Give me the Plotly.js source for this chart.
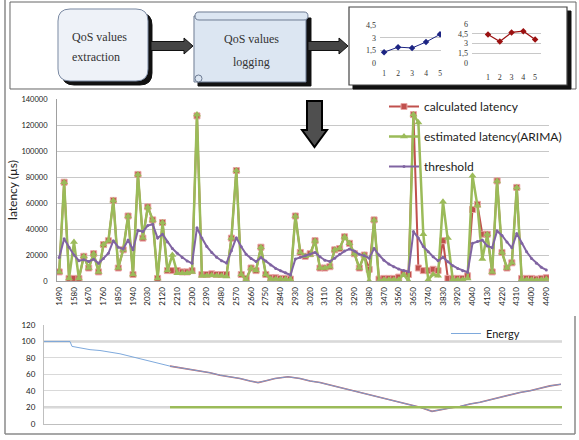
<!DOCTYPE html>
<html><head><meta charset="utf-8">
<script src="https://cdn.plot.ly/plotly-3.0.1.min.js"></script>
<style>html,body{margin:0;padding:0;background:#fff}#chart{width:579px;height:440px}</style>
</head><body><div id="chart"></div>
<script>
// ---------- main chart data ----------
const categories = ['1490','1520','1550','1580','1610','1640','1670','1700','1730','1760',
'1790','1820','1850','1880','1910','1940','1970','2000','2030','2060',
'2090','2120','2150','2180','2210','2240','2270','2300','2330','2360',
'2390','2420','2450','2480','2510','2540','2570','2600','2630','2660',
'2690','2720','2750','2780','2810','2840','2870','2900','2930','2960',
'2990','3020','3050','3080','3110','3140','3170','3200','3230','3260',
'3290','3320','3350','3380','3410','3440','3470','3500','3530','3560',
'3590','3620','3650','3680','3710','3740','3770','3800','3830','3860',
'3890','3920','3960','4000','4040','4070','4100','4130','4160','4190',
'4220','4250','4280','4310','4340','4370','4400','4430','4460','4490'];

const calculatedLatency = [7000,76000,2000,2000,2000,19000,10000,21000,7000,28000,
31000,62000,10000,24000,50000,5000,82000,33000,57000,47000,
2000,45000,8000,8000,8000,7000,7000,8000,127000,5000,
5000,5500,5000,5000,5000,33000,85000,5000,2000,10000,
8000,26000,5000,2500,2500,2000,2000,1500,50000,22000,
19000,21000,31000,10000,10000,11000,24000,25000,34000,29000,
21000,10000,20000,9000,47000,1500,2000,2000,2000,3000,
6000,5000,128000,10000,8000,8000,9000,8000,31000,2000,
2000,2000,2000,4000,55000,59000,36000,36000,7000,77000,
22000,10000,14000,72000,2000,2000,2000,1500,2000,2500];

const estimatedLatency = [7000,76000,2000,30000,2000,19000,10000,21000,7000,28000,
31000,62000,10000,24000,50000,5000,82000,33000,57000,47000,
2000,45000,8000,20000,6000,6000,6000,7000,128000,4000,
4000,4500,4000,4000,3500,33000,85000,5000,1000,10000,
8000,26000,5000,1500,1500,1500,1500,1000,50000,22000,
19000,20000,31000,10000,10000,11000,24000,25000,34000,29000,
21000,10000,20000,0,47000,0,1000,1000,1000,1000,
5000,0,128000,122000,36000,1000,5000,4000,61000,33000,
1000,1000,1000,2000,81000,58000,17000,36000,7000,77000,
22000,10000,14000,72000,1000,1000,1000,500,1000,1500];

const thresholdLatency = [18000,32500,26000,20000,15600,16400,15000,16700,13600,17400,
21300,31000,26000,24600,31500,24000,39000,38000,42600,43600,
33000,36000,30000,25000,21300,18000,15400,13600,41000,33000,
26500,22000,18200,15600,13800,23300,33300,26400,20500,17400,
15000,18000,15400,12300,9700,7900,6400,4600,16900,18200,
19500,20500,22000,18700,16000,15000,17500,20500,23000,24600,
23000,20500,19500,17500,25000,20000,16000,13000,11000,9200,
8000,7200,38000,33000,26500,22500,18700,15600,18200,14900,
11800,9700,7900,6700,29000,30300,31500,27000,25600,38500,
35000,30000,25500,36500,29000,22500,17400,13600,10500,8500];

const latencyTicks = [0,20000,40000,60000,80000,100000,120000,140000];

// ---------- mini charts in the diagram ----------
const miniX = ['1','2','3','4','5'];
const miniBlue = [1.3,1.9,1.8,2.5,3.4];
const miniRed = [4.4,3.3,4.7,4.9,3.6];
const miniTicks1 = [0,1.5,3,4.5];
const miniTickText1 = ['0','1,5','3','4,5'];
const miniTicks2 = [0,1.5,3,4.5,6];
const miniTickText2 = ['0','1,5','3','4,5','6'];

// ---------- energy chart ----------
const energyT = [0,26,28,36,46,56,66,76,86,96,106,116,126,136,146,156,166,176,186,196,206,214,221,231,244,256,266,276,286,296,306,316,326,336,346,356,366,376,388,396,406,416,426,436,446,456,466,476,486,496,506,517];
const energyVal = [100,100,94,92,90,89,87,85,82,79,76,73,70,68,66,64,62,59,57,55,52,50,52,55,57,55,52,50,47,44,41,38,35,32,29,26,23,20,15,17,19,21,24,26,29,32,35,38,40,43,46,48];
const energyRedStart = 12;
const energyThrT = [126,518];
const energyThrVal = [20,20];
const energyTicks = [0,20,40,60,80,100,120];

// ---------- helpers (pixel -> paper) ----------
const W = 579, H = 440;
const X = p => +(p / W).toFixed(5);
const Y = p => +(1 - p / H).toFixed(5);
function poly(pts){ return 'M' + pts.map(p => X(p[0]) + ',' + Y(p[1])).join('L') + 'Z'; }
function rrect(x0,y0,x1,y1,r){
  const P=(x,y)=>X(x)+','+Y(y);
  return 'M'+P(x0+r,y0)+'L'+P(x1-r,y0)+'Q'+P(x1,y0)+' '+P(x1,y0+r)+'L'+P(x1,y1-r)+'Q'+P(x1,y1)+' '+P(x1-r,y1)+
         'L'+P(x0+r,y1)+'Q'+P(x0,y1)+' '+P(x0,y1-r)+'L'+P(x0,y0+r)+'Q'+P(x0,y0)+' '+P(x0+r,y0)+'Z';
}
function pshape(path, fill, lc, lw, layer){ return {type:'path', xref:'paper', yref:'paper', path, fillcolor:fill, line:{color:lc, width:lw}, layer:layer||'above'}; }
function pline(x0,y0,x1,y1,c,w){ return {type:'line', xref:'paper', yref:'paper', x0:X(x0), y0:Y(y0), x1:X(x1), y1:Y(y1), line:{color:c,width:w}, layer:'above'}; }
function hArrow(x0,x1,yc){ return poly([[x0,yc-4.5],[x1-9,yc-4.5],[x1-9,yc-8],[x1,yc],[x1-9,yc+8],[x1-9,yc+4.5],[x0,yc+4.5]]); }

const tickVals = categories.filter((c,i)=> i % 3 === 0);

const traces = [
  {x:categories, y:calculatedLatency, name:'calculated latency', type:'scatter', mode:'lines+markers',
   line:{color:'#c0504d', width:2}, marker:{symbol:'square', size:6, color:'#c0504d', line:{color:'#e8a6a4', width:1}},
   legendgroup:'a', xaxis:'x', yaxis:'y'},
  {x:categories, y:estimatedLatency, name:'estimated latency(ARIMA)', type:'scatter', mode:'lines+markers',
   line:{color:'#9bbb59', width:2.5}, marker:{symbol:'triangle-up', size:7, color:'#9bbb59'},
   legendgroup:'b', xaxis:'x', yaxis:'y'},
  {x:categories, y:thresholdLatency, name:'threshold', type:'scatter', mode:'lines+markers',
   line:{color:'#8064a2', width:2}, marker:{symbol:'circle', size:3, color:'#8064a2'},
   legendgroup:'c', xaxis:'x', yaxis:'y'},
  {x:miniX, y:miniBlue, type:'scatter', mode:'lines+markers', showlegend:false, xaxis:'x2', yaxis:'y2',
   line:{color:'#1c2483', width:1}, marker:{symbol:'diamond', size:5, color:'#1c2483'}},
  {x:miniX, y:miniRed, type:'scatter', mode:'lines+markers', showlegend:false, xaxis:'x3', yaxis:'y3',
   line:{color:'#9b1111', width:1.2}, marker:{symbol:'diamond', size:5, color:'#9b1111'}},
  {x:energyT.slice(energyRedStart), y:energyVal.slice(energyRedStart), type:'scatter', mode:'lines', showlegend:false,
   xaxis:'x4', yaxis:'y4', line:{color:'rgba(192,80,77,0.85)', width:1.6}},
  {x:energyT, y:energyVal, name:'Energy', type:'scatter', mode:'lines', legend:'legend2', xaxis:'x4', yaxis:'y4',
   line:{color:'#6f9fd8', width:0.9}},
  {x:energyThrT, y:energyThrVal, type:'scatter', mode:'lines', showlegend:false, xaxis:'x4', yaxis:'y4',
   line:{color:'#9bbb59', width:2.5}}
];

const tickFont = {family:'Lato, sans-serif', size:7.5, color:'#222'};
const serif = 'Liberation Serif, serif';

const shapes = [
  // outer frame
  pline(5,0,5,434,'#8a8a8a',1.5),
  pline(5,434,575,434,'#8a8a8a',1.5),
  pline(575,316,575,434,'#8a8a8a',1.5),
  // top diagram box
  {type:'rect', xref:'paper', yref:'paper', x0:X(10), y0:Y(2), x1:X(576), y1:Y(89), line:{color:'#666',width:1}, layer:'below'},
  // chart box (shadow then white panel, both under the mini plots)
  pshape(poly([[353,11],[571,11],[571,89],[353,89]]), '#111', '#111', 1, 'below'),
  {type:'rect', xref:'paper', yref:'paper', x0:X(349), y0:Y(7), x1:X(567), y1:Y(85), fillcolor:'#ffffff', line:{color:'#444',width:1.2}, layer:'below'},
  // box 1
  pshape(rrect(62,13,152,85,12), '#111', '#111', 1),
  pshape(rrect(58,9,148,81,12), '#eef2f8', '#7b8aa3', 1),
  // arrow 1
  pshape(hArrow(151,193,46), '#454545', '#111', 1),
  // scroll
  pshape(poly([[198,18],[311,18],[311,86],[198,86]]), '#111', '#111', 1),
  pshape(poly([[194,16],[306,16],[306,82],[194,82]]), '#dce6f2', '#6d7b93', 1),
  pshape(rrect(195,12,308,20,4), '#dce6f2', '#6d7b93', 1),
  {type:'circle', xref:'paper', yref:'paper', x0:X(195), y0:Y(75), x1:X(202), y1:Y(82), fillcolor:'#dce6f2', line:{color:'#6d7b93',width:1}, layer:'above'},
  // arrow 2
  pshape(hArrow(308,348,46), '#454545', '#111', 1),
  // down arrow
  pshape(poly([[307,101],[322,101],[322,130],[327,130],[314.5,147],[302,130],[307,130]]), '#4f4f4f', '#000', 2),
  // energy chart thicker reference lines
  {type:'line', xref:'x4', yref:'y4', x0:0, x1:518, y0:100, y1:100, line:{color:'#d6d6d6', width:2.5}, layer:'below'},
  {type:'line', xref:'x4', yref:'y4', x0:0, x1:126, y0:20, y1:20, line:{color:'#d6d6d6', width:2.5}, layer:'below'}
];

const annotations = [
  {text:'QoS values', x:X(70), y:Y(37), xref:'paper', yref:'paper', xanchor:'left', yanchor:'middle', showarrow:false, font:{family:serif, size:12, color:'#333'}},
  {text:'extraction', x:X(70), y:Y(57), xref:'paper', yref:'paper', xanchor:'left', yanchor:'middle', showarrow:false, font:{family:serif, size:12, color:'#333'}},
  {text:'QoS values', x:X(251), y:Y(39), xref:'paper', yref:'paper', xanchor:'center', yanchor:'middle', showarrow:false, font:{family:serif, size:12, color:'#333'}},
  {text:'logging', x:X(251), y:Y(62), xref:'paper', yref:'paper', xanchor:'center', yanchor:'middle', showarrow:false, font:{family:serif, size:12, color:'#333'}}
];

const layout = {
  width:W, height:H, margin:{l:0,r:0,t:0,b:0}, paper_bgcolor:'#fff', plot_bgcolor:'rgba(0,0,0,0)',
  showlegend:true,
  xaxis:{domain:[X(57),X(549)], anchor:'y', type:'category', range:[-0.45,99.55], tickmode:'array', tickvals:tickVals, ticktext:tickVals,
         tickangle:-90, tickfont:{family:'Lato, sans-serif', size:8, color:'#222'}, showgrid:false, showline:true, linecolor:'#a0a0a0', linewidth:1,
         ticks:'', ticklabelstandoff:2, fixedrange:true},
  yaxis:{domain:[Y(281),Y(99)], anchor:'x', range:[0,140000], tickvals:latencyTicks, tickformat:'d', tickfont:tickFont,
         showgrid:true, gridcolor:'#c8c8c8', gridwidth:1, zeroline:false, showline:true, linecolor:'#a0a0a0', ticks:'', ticklabelstandoff:7,
         title:{text:'latency (µs)', font:{family:'Lato, sans-serif', size:12, color:'#222'}, standoff:1}},
  xaxis2:{domain:[X(380),X(441)], anchor:'y2', type:'category', range:[-0.29,4.07], showgrid:false, showline:false, zeroline:false,
          tickfont:{family:serif,size:7.5,color:'#333'}, ticks:'', ticklabelstandoff:4},
  yaxis2:{domain:[Y(63.3),Y(25)], anchor:'x2', range:[0,4.5], tickvals:miniTicks1, ticktext:miniTickText1, gridcolor:'#c8c8c8', zeroline:false,
          tickfont:{family:serif,size:8,color:'#333'}, ticks:'', ticklabelstandoff:3},
  xaxis3:{domain:[X(472),X(541)], anchor:'y3', type:'category', range:[-1.36,4.5], showgrid:false, showline:false, zeroline:false,
          tickfont:{family:serif,size:8,color:'#333'}, ticks:'', ticklabelstandoff:8},
  yaxis3:{domain:[Y(63),Y(24)], anchor:'x3', range:[0,6], tickvals:miniTicks2, ticktext:miniTickText2, gridcolor:'#c8c8c8', zeroline:false,
          tickfont:{family:serif,size:8,color:'#333'}, ticks:'', ticklabelstandoff:3},
  xaxis4:{domain:[X(44),X(562)], anchor:'y4', range:[0,518], showgrid:false, showticklabels:false, showline:true, linecolor:'#bfbfbf', zeroline:false, ticks:''},
  yaxis4:{domain:[Y(423.7),Y(325)], anchor:'x4', range:[0,120], tickvals:energyTicks, gridcolor:'#d9d9d9', zeroline:false, showline:true, linecolor:'#bfbfbf',
          tickfont:{family:'Lato, sans-serif', size:8, color:'#222'}, ticks:'', ticklabelstandoff:6},
  legend:{x:X(384), y:Y(92), xanchor:'left', yanchor:'top', bgcolor:'rgba(0,0,0,0)', font:{family:'Lato, sans-serif', size:12, color:'#222'},
          traceorder:'grouped', tracegroupgap:11, itemwidth:30},
  legend2:{x:X(446), y:Y(319), xanchor:'left', yanchor:'top', bgcolor:'rgba(0,0,0,0)', font:{family:'Lato, sans-serif', size:11, color:'#222'}, itemwidth:30},
  shapes, annotations
};

Plotly.newPlot('chart', traces, layout, {displayModeBar:false, staticPlot:true});
</script></body></html>
